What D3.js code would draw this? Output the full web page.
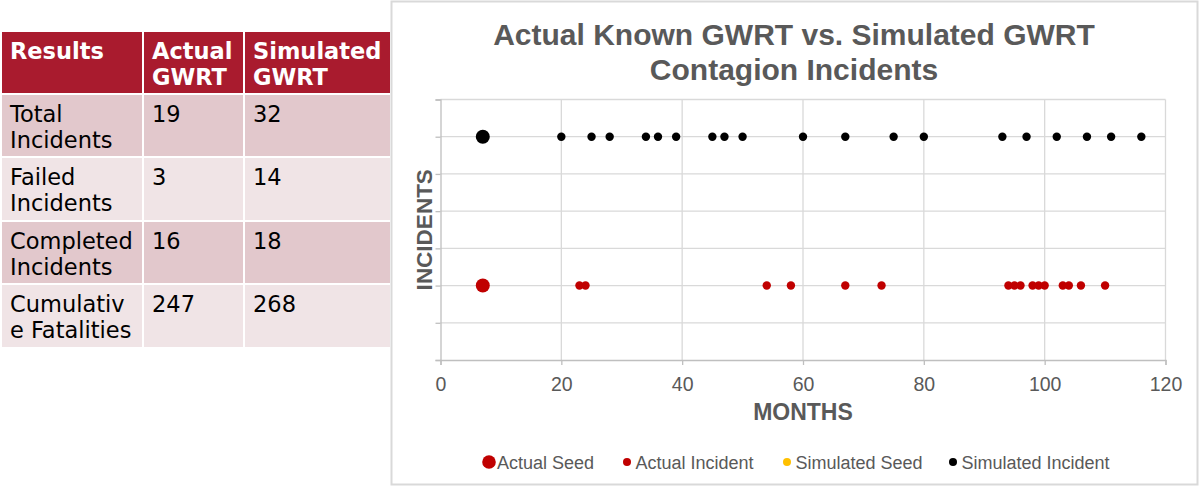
<!DOCTYPE html>
<html>
<head>
<meta charset="utf-8">
<script src="https://d3js.org/d3.v7.min.js"></script>
<style>
body { margin: 0; background: #fff; }
svg { display: block; }
</style>
</head>
<body>
<svg width="1200" height="487"></svg>
<script>
// table values
let tableHeader = [['Results'], ['Actual', 'GWRT'], ['Simulated', 'GWRT']]
let tableRows = [
    [['Total', 'Incidents'], ['19'], ['32']],
    [['Failed', 'Incidents'], ['3'], ['14']],
    [['Completed', 'Incidents'], ['16'], ['18']],
    [['Cumulativ', 'e Fatalities'], ['247'], ['268']]
]

// chart values (months)
let actualSeed = [7]
let actualIncident = [23, 24, 54, 58, 67, 73, 94, 95, 96, 98, 99, 100, 103, 104, 106, 110]
let simulatedSeed = [7]
let simulatedIncident = [20, 25, 28, 34, 36, 39, 45, 47, 50, 60, 67, 75, 80, 93, 97, 102, 107, 111, 116]
let actualRow = 1
let simulatedRow = 3
let xTicks = [0, 20, 40, 60, 80, 100, 120]
let yTicks = [0, 0.5, 1, 1.5, 2, 2.5, 3, 3.5]
let legendItems = [
    {label: 'Actual Seed', color: '#c00000', r: 6.8},
    {label: 'Actual Incident', color: '#c00000', r: 4},
    {label: 'Simulated Seed', color: '#ffc000', r: 4},
    {label: 'Simulated Incident', color: '#000000', r: 4}
]

let svg = d3.select('svg')
let font = "Arial, 'Liberation Sans', sans-serif"
let gray = '#595959'

// ---- table ----
let colX = [2, 144, 245]
let colW = [140, 99, 145]
let rowY = [32, 95, 158, 222, 285]
let rowH = [61, 61, 62, 61, 62]
let rowFill = ['#e2c8cc', '#f0e4e6', '#e2c8cc', '#f0e4e6']
let table = svg.append('g')

let drawRow = (cells, r, fill, color, weight) => {
    cells.forEach((lines, c) => {
        table.append('rect')
            .attr('x', colX[c])
            .attr('y', rowY[r])
            .attr('width', colW[c])
            .attr('height', rowH[r])
            .attr('fill', fill)
        let t = table.append('text')
            .attr('x', colX[c] + 8)
            .attr('y', rowY[r] + 26.5)
            .attr('fill', color)
            .attr('font-family', "Verdana, 'DejaVu Sans', sans-serif")
            .attr('font-size', 22.5)
            .attr('font-weight', weight)
        lines.forEach((l, i) => {
            t.append('tspan').attr('x', colX[c] + 8).attr('dy', i === 0 ? 0 : 26.5).text(l)
        })
    })
}
drawRow(tableHeader, 0, '#a91b2e', '#ffffff', 'bold')
tableRows.forEach((row, i) => drawRow(row, i + 1, rowFill[i], '#000000', 'normal'))

// ---- chart ----
svg.append('rect')
    .attr('x', 391.5).attr('y', 1.5)
    .attr('width', 806).attr('height', 483)
    .attr('fill', '#fff')
    .attr('stroke', '#d9d9d9')
    .attr('stroke-width', 2)

let xScale = d3.scaleLinear().domain([0, 120]).range([440.5, 1165.5])
let yScale = d3.scaleLinear().domain([0, 3.5]).range([360, 99.5])

// gridlines
svg.append('g')
    .selectAll('line')
    .data(yTicks.slice(1))
    .enter()
    .append('line')
    .attr('x1', xScale(0)).attr('x2', xScale(120))
    .attr('y1', d => yScale(d)).attr('y2', d => yScale(d))
    .attr('stroke', '#d9d9d9').attr('stroke-width', 1.3)

svg.append('g')
    .selectAll('line')
    .data(xTicks.slice(1))
    .enter()
    .append('line')
    .attr('x1', d => xScale(d)).attr('x2', d => xScale(d))
    .attr('y1', yScale(0)).attr('y2', yScale(3.5))
    .attr('stroke', '#d9d9d9').attr('stroke-width', 1.3)

// axes
let xAxis = d3.axisBottom(xScale).tickValues(xTicks).tickSize(5).tickPadding(12)
let xg = svg.append('g')
    .attr('transform', 'translate(0,' + yScale(0) + ')')
    .call(xAxis)
xg.selectAll('path, line').attr('stroke', '#bfbfbf').attr('stroke-width', 1.3)
xg.selectAll('text')
    .attr('fill', gray)
    .attr('font-family', font)
    .attr('font-size', 19.5)

let yAxis = d3.axisLeft(yScale).tickValues(yTicks).tickSize(5).tickFormat('')
let yg = svg.append('g')
    .attr('transform', 'translate(' + xScale(0) + ',0)')
    .call(yAxis)
yg.selectAll('path, line').attr('stroke', '#bfbfbf').attr('stroke-width', 1.3)

// points
let drawDots = (data, row, color, r) => {
    svg.append('g')
        .selectAll('circle')
        .data(data)
        .enter()
        .append('circle')
        .attr('cx', d => xScale(d))
        .attr('cy', yScale(row))
        .attr('r', r)
        .attr('fill', color)
}
drawDots(actualIncident, actualRow, '#c00000', 4.2)
drawDots(actualSeed, actualRow, '#c00000', 7)
drawDots(simulatedIncident, simulatedRow, '#000000', 4.2)
drawDots(simulatedSeed, simulatedRow, '#000000', 7)

// titles
let title = svg.append('text')
    .attr('x', 794)
    .attr('text-anchor', 'middle')
    .attr('fill', gray)
    .attr('font-family', font)
    .attr('font-weight', 'bold')
    .attr('font-size', 30)
title.append('tspan').attr('x', 794).attr('y', 45).text('Actual Known GWRT vs. Simulated GWRT')
title.append('tspan').attr('x', 794).attr('y', 79.5).text('Contagion Incidents')

svg.append('text')
    .attr('x', xScale(60)).attr('y', 420)
    .attr('text-anchor', 'middle')
    .attr('fill', gray)
    .attr('font-family', font)
    .attr('font-weight', 'bold')
    .attr('font-size', 23)
    .text('MONTHS')

svg.append('text')
    .attr('transform', 'translate(432,' + yScale(1.75) + ') rotate(-90)')
    .attr('text-anchor', 'middle')
    .attr('fill', gray)
    .attr('font-family', font)
    .attr('font-weight', 'bold')
    .attr('font-size', 22.5)
    .text('INCIDENTS')

// legend
let legendX = [489, 627, 787, 953]
let legend = svg.append('g')
    .selectAll('g')
    .data(legendItems)
    .enter()
    .append('g')
    .attr('transform', (d, i) => 'translate(' + legendX[i] + ',462)')
legend.append('circle')
    .attr('r', d => d.r)
    .attr('fill', d => d.color)
legend.append('text')
    .attr('x', (d, i) => i === 0 ? 8 : 8.5)
    .attr('y', 6.5)
    .attr('fill', gray)
    .attr('font-family', font)
    .attr('font-size', 18)
    .text(d => d.label)
</script>
</body>
</html>
